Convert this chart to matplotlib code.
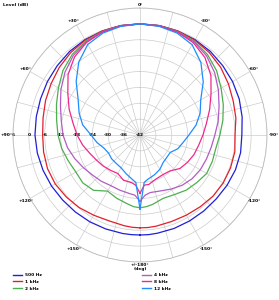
import numpy as np
import matplotlib
matplotlib.use("Agg")
import matplotlib.pyplot as plt
from matplotlib.lines import Line2D

# angle in degrees, positive = left side of the plot
ANGLES = [-180, -175, -170, -160, -150, -140, -130, -120, -110, -100, -90,
          -80, -70, -60, -50, -40, -30, -20, -10, 0,
          10, 20, 30, 40, 50, 60, 70, 80, 90,
          100, 110, 120, 130, 140, 150, 160, 170, 175, 180]

LEVEL_500 = [-4.2, -4.2, -4.3, -4.4, -4.5, -4.5, -4.4, -4.0, -3.6, -3.4, -3.5,
             -2.8, -2.1, -1.6, -1.2, -0.7, -0.4, -0.2, 0.0, 0.0,
             0.0, -0.2, -0.4, -0.7, -1.2, -1.6, -2.0, -2.2, -2.3,
             -2.6, -3.0, -3.4, -3.8, -4.0, -4.1, -4.2, -4.2, -4.2, -4.2]
LEVEL_1K = [-6.9, -6.9, -7.0, -7.2, -7.0, -6.6, -6.0, -5.7, -5.6, -5.6, -6.1,
            -5.2, -4.5, -3.4, -2.2, -1.3, -0.6, -0.2, 0.0, 0.0,
            0.0, -0.2, -0.6, -1.3, -2.2, -3.2, -4.0, -4.8, -5.2,
            -5.0, -4.8, -5.0, -5.6, -6.2, -7.0, -7.5, -7.2, -7.0, -6.9]
LEVEL_2K = [-14.5, -14.8, -15.3, -16.5, -16.0, -14.8, -14.0, -12.9, -12.9, -12.9, -11.8,
            -10.2, -8.5, -6.6, -4.2, -2.3, -1.0, -0.4, -0.1, 0.0,
            -0.1, -0.4, -1.0, -2.2, -4.0, -6.4, -8.4, -10.0, -11.0,
            -12.0, -13.2, -14.0, -13.8, -14.7, -17.5, -16.5, -15.5, -14.8, -14.5]
LEVEL_4K = [-17.0, -19.2, -19.9, -19.5, -18.4, -17.2, -16.3, -15.7, -15.3, -14.7, -13.7,
            -12.0, -10.2, -7.8, -5.2, -2.9, -1.3, -0.5, -0.1, 0.0,
            -0.1, -0.5, -1.3, -2.8, -5.0, -7.5, -10.0, -11.8, -12.9,
            -14.2, -15.8, -17.3, -18.5, -19.2, -19.9, -19.8, -19.5, -19.2, -17.0]
LEVEL_8K = [-20.0, -23.0, -23.0, -24.3, -24.7, -24.3, -22.3, -21.3, -20.3, -19.5, -18.2,
            -16.5, -14.0, -11.0, -7.0, -3.8, -1.7, -0.6, -0.2, 0.0,
            -0.2, -0.6, -1.6, -3.5, -6.5, -10.5, -13.5, -16.3, -18.2,
            -20.0, -21.8, -23.0, -23.8, -24.6, -25.2, -23.8, -23.7, -23.0, -20.0]
LEVEL_12K = [-14.0, -24.0, -25.0, -26.0, -27.0, -28.4, -28.8, -28.8, -26.8, -25.5, -23.5,
             -20.5, -17.8, -15.5, -10.8, -6.2, -2.6, -1.0, -0.3, 0.0,
             -0.3, -1.0, -2.5, -6.0, -10.5, -15.0, -17.5, -20.0, -23.5,
             -25.5, -27.5, -28.3, -28.0, -28.0, -27.7, -26.5, -25.0, -24.0, -14.0]

SERIES = [
    ("500 Hz", LEVEL_500, "#1f1fd6"),
    ("1 kHz", LEVEL_1K, "#e0202a"),
    ("2 kHz", LEVEL_2K, "#4fae4f"),
    ("4 kHz", LEVEL_4K, "#b25cc4"),
    ("8 kHz", LEVEL_8K, "#f0288c"),
    ("12 kHz", LEVEL_12K, "#1e8cff"),
]

RING_LEVELS = [-42, -36, -30, -24, -18, -12, -6, 0, 6]
ANGLE_TICKS = [0, 30, 60, 90, 120, 150, 180, 210, 240, 270, 300, 330]
ANGLE_LABELS = ["0°", "+30°", "+60°", "+90°", "+120°", "+150°", "+/-180°",
                "-150°", "-120°", "-90°", "-60°", "-30°"]

FS = 3.2

fig = plt.figure(figsize=(2.79, 3.0), dpi=100)
ax = fig.add_axes([13 / 279, 38 / 300, 254 / 279, 254 / 300], projection="polar")
ax.set_theta_zero_location("N")
ax.set_theta_direction(1)
ax.set_rlim(-42, 6)

theta = np.deg2rad(ANGLES)
for name, level, color in SERIES:
    ax.plot(theta, level, color=color, lw=0.9, label=name)

# grid: rings every 6 dB, spokes every 15 degrees
ax.set_yticks(RING_LEVELS)
ax.set_yticklabels([str(v) for v in RING_LEVELS], fontsize=FS, fontweight="bold")
ax.set_rlabel_position(90)
spokes = np.arange(0, 360, 15)
ax.set_thetagrids(spokes, [""] * len(spokes))
ax.grid(color="#cccccc", lw=0.5)
ax.spines["polar"].set_color("#bbbbbb")
ax.spines["polar"].set_linewidth(0.6)
for tl in ax.yaxis.get_ticklabels():
    tl.set_verticalalignment("center")
    tl.set_horizontalalignment("center")

# angle labels just outside the outer ring
for a, lab in zip(ANGLE_TICKS, ANGLE_LABELS):
    if a in (0, 180):
        r = 7.0
    elif a in (90, 270):
        r = 8.6
    else:
        r = 7.9
    ax.text(np.deg2rad(a), r, lab, fontsize=FS, fontweight="bold",
            ha="center", va="center", clip_on=False)

fig.text(140 / 279, 1 - 269 / 300, "(deg)", fontsize=FS, fontweight="bold",
         ha="center", va="center")
fig.text(3 / 279, 1 - 5 / 300, "Level (dB)", fontsize=FS, fontweight="bold",
         ha="left", va="center")

handles = [Line2D([], [], color=c, lw=1.0) for _, _, c in SERIES]
labels = [n for n, _, _ in SERIES]
leg_kw = dict(frameon=False, handlelength=2.0, handletextpad=0.7,
              labelspacing=0.6, borderpad=0, borderaxespad=0, loc="upper left",
              prop={"size": FS, "weight": "bold"})
fig.legend(handles[:3], labels[:3], bbox_to_anchor=(13 / 279, 1 - 273 / 300), **leg_kw)
fig.legend(handles[3:], labels[3:], bbox_to_anchor=(142 / 279, 1 - 273 / 300), **leg_kw)

fig.savefig("out.png", dpi=100)
